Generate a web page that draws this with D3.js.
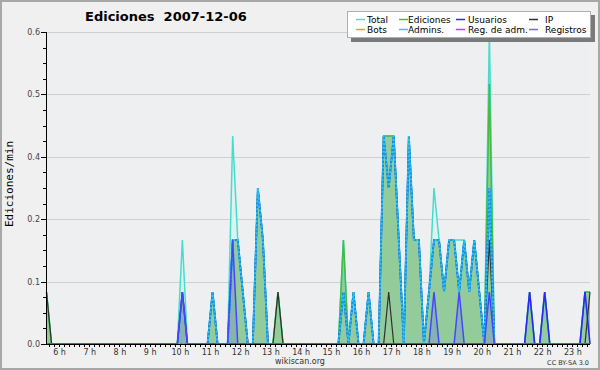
<!DOCTYPE html>
<html>
<head>
<meta charset="utf-8">
<script src="https://cdn.jsdelivr.net/npm/d3@7"></script>
<style>
body { margin: 0; background: #fff; }
svg { display: block; font-family: "DejaVu Sans", sans-serif; }
</style>
</head>
<body>
<div id="chart"></div>
<script>
// 10 minute buckets, first one at 05:35, last at 23:35
let startHour = 5 + 35 / 60;
let stepHour = 10 / 60;

let total    = [0.1,0,0,0,0,0,0,0,0,0, 0,0,0,0,0,0,0,0,0,0, 0,0,0,0,0,0,0,0.2,0,0, 0,0,0,0.1,0,0,0,0.4,0.2,0.1, 0,0,0.3,0.2,0,0,0.1,0,0,0, 0,0,0,0,0,0,0,0,0,0.2, 0,0.1,0,0,0.1,0,0,0.4,0.4,0.4, 0.2,0,0.4,0.2,0.2,0,0.1,0.3,0.2,0.1, 0.2,0.2,0.2,0.2,0.1,0.2,0.1,0,0.6,0, 0,0,0,0,0,0,0.1,0,0,0.1, 0,0,0,0,0,0,0,0.1,0.1];
let ediciones= [0.1,0,0,0,0,0,0,0,0,0, 0,0,0,0,0,0,0,0,0,0, 0,0,0,0,0,0,0,0.1,0,0, 0,0,0,0.1,0,0,0,0.2,0.2,0.1, 0,0,0.3,0.2,0,0,0.1,0,0,0, 0,0,0,0,0,0,0,0,0,0.2, 0,0.1,0,0,0.1,0,0,0.4,0.4,0.4, 0.2,0,0.4,0.2,0.2,0,0.1,0.2,0.2,0.1, 0.2,0.2,0.1,0.2,0.1,0.2,0.1,0,0.5,0, 0,0,0,0,0,0,0.1,0,0,0.1, 0,0,0,0,0,0,0,0.1,0.1];
let usuarios = [0,0,0,0,0,0,0,0,0,0, 0,0,0,0,0,0,0,0,0,0, 0,0,0,0,0,0,0,0.1,0,0, 0,0,0,0.1,0,0,0,0.2,0.2,0.1, 0,0,0.3,0.2,0,0,0,0,0,0, 0,0,0,0,0,0,0,0,0,0.1, 0,0.1,0,0,0.1,0,0,0.4,0.3,0.4, 0.2,0,0.4,0.2,0.2,0,0.1,0.2,0.2,0.1, 0.2,0.2,0.1,0.2,0.1,0.2,0.1,0,0.3,0, 0,0,0,0,0,0,0.1,0,0,0.1, 0,0,0,0,0,0,0,0.1,0];
let ip       = [0.1,0,0,0,0,0,0,0,0,0, 0,0,0,0,0,0,0,0,0,0, 0,0,0,0,0,0,0,0,0,0, 0,0,0,0,0,0,0,0,0,0, 0,0,0,0,0,0,0.1,0,0,0, 0,0,0,0,0,0,0,0,0,0.1, 0,0,0,0,0,0,0,0,0.1,0, 0,0,0,0,0,0,0,0,0,0, 0,0,0,0,0,0,0,0,0.2,0, 0,0,0,0,0,0,0,0,0,0, 0,0,0,0,0,0,0,0,0.1];
let admins   = [0,0,0,0,0,0,0,0,0,0, 0,0,0,0,0,0,0,0,0,0, 0,0,0,0,0,0,0,0,0,0, 0,0,0,0.1,0,0,0,0.2,0.2,0.1, 0,0,0.3,0.2,0,0,0,0,0,0, 0,0,0,0,0,0,0,0,0,0.1, 0,0.1,0,0,0.1,0,0,0.4,0.3,0.4, 0.2,0,0.4,0.2,0.2,0,0.1,0.2,0.2,0.1, 0.2,0.2,0.1,0.2,0.1,0.2,0.1,0,0.3,0, 0,0,0,0,0,0,0,0,0,0, 0,0,0,0,0,0,0,0,0];
let registros= [0,0,0,0,0,0,0,0,0,0, 0,0,0,0,0,0,0,0,0,0, 0,0,0,0,0,0,0,0.1,0,0, 0,0,0,0,0,0,0,0.2,0,0, 0,0,0,0,0,0,0,0,0,0, 0,0,0,0,0,0,0,0,0,0, 0,0,0,0,0,0,0,0,0,0, 0,0,0,0,0,0,0,0.1,0,0, 0,0,0.1,0,0,0,0,0,0.1,0, 0,0,0,0,0,0,0,0,0,0, 0,0,0,0,0,0,0,0,0];
let bots     = total.map(() => 0);
let regAdm   = total.map(() => 0);

let hourTicks = [6,7,8,9,10,11,12,13,14,15,16,17,18,19,20,21,22,23];
let yTicks = [0, 0.12, 0.24, 0.36, 0.48, 0.6];

let legendItems = [
    {name: "Total", color: "#40e0d0"},
    {name: "Ediciones", color: "#44bb44"},
    {name: "Usuarios", color: "#2828ff"},
    {name: "IP", color: "#303030"},
    {name: "Bots", color: "#ff9900"},
    {name: "Admins.", color: "#22ccee"},
    {name: "Reg. de adm.", color: "#ee22ee"},
    {name: "Registros", color: "#6a6aff"}
];

let svgwidth = 600;
let svgheight = 370;

let svg = d3.select("#chart")
    .append("svg")
    .attr("width", svgwidth)
    .attr("height", svgheight);

// frame
svg.append("rect")
    .attr("x", 1).attr("y", 1)
    .attr("width", svgwidth - 2).attr("height", svgheight - 2)
    .attr("fill", "#f0f0f0")
    .attr("stroke", "#a8a8a8")
    .attr("stroke-width", 2);

let xScale = d3.scaleLinear()
    .domain([startHour, startHour + stepHour * (total.length - 1)])
    .range([46.5, 590]);

let yScale = d3.scaleLinear()
    .domain([0, 0.6])
    .range([344, 32]);

let hours = total.map((d, i) => startHour + i * stepHour);

// plot background
svg.append("rect")
    .attr("x", xScale.range()[0]).attr("y", yScale(0.6))
    .attr("width", xScale.range()[1] - xScale.range()[0])
    .attr("height", yScale(0) - yScale(0.6))
    .attr("fill", "#eeeff1");

// grid
svg.append("g")
    .selectAll("line")
    .data(yTicks.filter(d => d > 0))
    .enter()
    .append("line")
    .attr("x1", 46).attr("x2", 590)
    .attr("y1", d => Math.round(yScale(d)) + 0.5)
    .attr("y2", d => Math.round(yScale(d)) + 0.5)
    .attr("stroke", "#cfcfcf");

function area(values) {
    return d3.area()
        .x((d, i) => xScale(hours[i]))
        .y0(yScale(0))
        .y1(d => yScale(d))(values);
}
function line(values) {
    return d3.line()
        .x((d, i) => xScale(hours[i]))
        .y(d => yScale(d))(values);
}

let chart = svg.append("g");

chart.append("path").attr("d", area(total)).attr("fill", "#dcf3f0");
chart.append("path").attr("d", area(ediciones)).attr("fill", "#93cb9b");
chart.append("path").attr("d", area(registros)).attr("fill", "rgba(90,90,255,0.22)");

chart.append("path").attr("d", line(total))
    .attr("fill", "none").attr("stroke", "#48dccc").attr("stroke-width", 1.5);
chart.append("path").attr("d", line(ediciones))
    .attr("fill", "none").attr("stroke", "#44bb44").attr("stroke-width", 1.5);
chart.append("path").attr("d", line(bots))
    .attr("fill", "none").attr("stroke", "#ff9900").attr("stroke-width", 1.5);
chart.append("path").attr("d", line(regAdm))
    .attr("fill", "none").attr("stroke", "#ee22ee").attr("stroke-width", 1.5);
chart.append("path").attr("d", line(usuarios))
    .attr("fill", "none").attr("stroke", "#2828ff").attr("stroke-width", 1.6);
chart.append("path").attr("d", line(ip))
    .attr("fill", "none").attr("stroke", "#303030").attr("stroke-width", 1.2);
// admins drawn over usuarios, two tones give the striped look
chart.append("path").attr("d", line(admins))
    .attr("fill", "none").attr("stroke", "#1a8ee0").attr("stroke-width", 1.9);
chart.append("path").attr("d", line(admins))
    .attr("fill", "none").attr("stroke", "#2ccaf0").attr("stroke-width", 1.9)
    .attr("stroke-dasharray", "2,2");
chart.append("path").attr("d", line(registros))
    .attr("fill", "none").attr("stroke", "#4646ff").attr("stroke-width", 1.5);

// x axis
let minorTicks = d3.range(Math.ceil(startHour * 6), Math.floor(xScale.domain()[1] * 6) + 1).map(d => d / 6);
let xAxis = svg.append("g");
xAxis.selectAll("line")
    .data(minorTicks)
    .enter()
    .append("line")
    .attr("x1", d => Math.round(xScale(d)) + 0.5)
    .attr("x2", d => Math.round(xScale(d)) + 0.5)
    .attr("y1", 344).attr("y2", 347)
    .attr("stroke", "#000");
xAxis.selectAll("text")
    .data(hourTicks)
    .enter()
    .append("text")
    .attr("x", d => xScale(d) + 0.5)
    .attr("y", 355)
    .attr("text-anchor", "middle")
    .attr("font-size", "8px")
    .attr("fill", "#333")
    .text(d => d + " h");
xAxis.append("line")
    .attr("x1", 46).attr("x2", 590)
    .attr("y1", 344.5).attr("y2", 344.5)
    .attr("stroke", "#000");

// y axis
let yAxis = svg.append("g");
yAxis.selectAll("line.minor")
    .data(d3.range(0, 21).map(d => d * 0.03))
    .enter()
    .append("line")
    .attr("x1", 43).attr("x2", 46)
    .attr("y1", d => Math.round(yScale(d)) + 0.5)
    .attr("y2", d => Math.round(yScale(d)) + 0.5)
    .attr("stroke", "#000");
yAxis.selectAll("line.major")
    .data(yTicks)
    .enter()
    .append("line")
    .attr("x1", 41).attr("x2", 46)
    .attr("y1", d => Math.round(yScale(d)) + 0.5)
    .attr("y2", d => Math.round(yScale(d)) + 0.5)
    .attr("stroke", "#000");
yAxis.selectAll("text")
    .data(yTicks)
    .enter()
    .append("text")
    .attr("x", 40)
    .attr("y", d => yScale(d) + 3)
    .attr("text-anchor", "end")
    .attr("font-size", "8px")
    .attr("fill", "#444")
    .text(d => d3.format(".1f")(d));
yAxis.append("line")
    .attr("x1", 46.5).attr("x2", 46.5)
    .attr("y1", 32).attr("y2", 345)
    .attr("stroke", "#000");

svg.append("text")
    .attr("transform", "translate(13, 184) rotate(-90)")
    .attr("text-anchor", "middle")
    .attr("font-family", "DejaVu Sans Mono, monospace")
    .attr("font-size", "11px")
    .attr("fill", "#000")
    .text("Ediciones/min");

// title
svg.append("text")
    .attr("x", 85).attr("y", 21)
    .attr("font-size", "13px")
    .attr("font-weight", "bold")
    .attr("fill", "#000")
    .style("white-space", "pre")
    .text("Ediciones  2007-12-06");

// legend
let legend = svg.append("g");
legend.append("rect")
    .attr("x", 351).attr("y", 15).attr("width", 244).attr("height", 27)
    .attr("fill", "#7a7a7a");
legend.append("rect")
    .attr("x", 347.5).attr("y", 11.5).attr("width", 243).attr("height", 26)
    .attr("fill", "#fff").attr("stroke", "#b0b0b0");

let lineX = [356, 399, 456, 529];
let textX = [367, 408, 468, 545];
let rowY = [19, 29];
legendItems.forEach(function(item, i) {
    let col = i % 4;
    let row = Math.floor(i / 4);
    legend.append("line")
        .attr("x1", lineX[col]).attr("x2", lineX[col] + 9)
        .attr("y1", rowY[row] + 0.5).attr("y2", rowY[row] + 0.5)
        .attr("stroke", item.color).attr("stroke-width", 1.5);
    legend.append("text")
        .attr("x", textX[col]).attr("y", rowY[row] + 3.5)
        .attr("font-size", "9px")
        .attr("fill", "#000")
        .text(item.name);
});

svg.append("text")
    .attr("x", 300).attr("y", 364)
    .attr("text-anchor", "middle")
    .attr("font-size", "8px")
    .attr("fill", "#333")
    .text("wikiscan.org");

svg.append("text")
    .attr("x", 589).attr("y", 365)
    .attr("text-anchor", "end")
    .attr("font-size", "6.5px")
    .attr("fill", "#333")
    .text("CC BY-SA 3.0");
</script>
</body>
</html>
